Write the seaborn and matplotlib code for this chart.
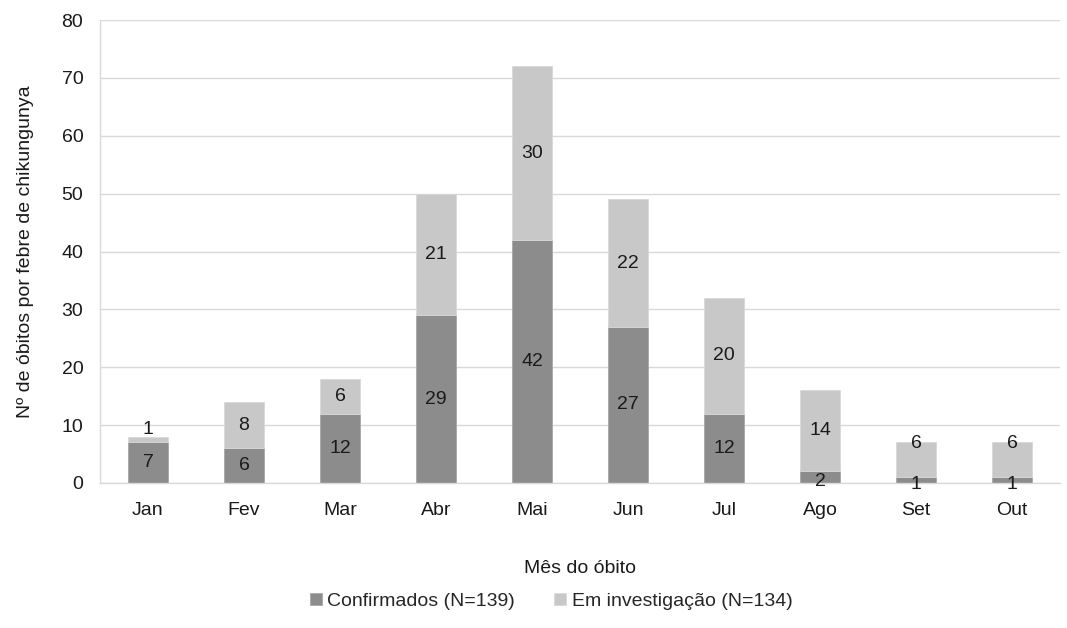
import matplotlib
matplotlib.use("Agg")
import matplotlib.pyplot as plt
import pandas as pd
import seaborn as sns

months = ["Jan", "Fev", "Mar", "Abr", "Mai", "Jun", "Jul", "Ago", "Set", "Out"]
confirmados = [7, 6, 12, 29, 42, 27, 12, 2, 1, 1]
investigacao = [1, 8, 6, 21, 30, 22, 20, 14, 6, 6]
yticks = [0, 10, 20, 30, 40, 50, 60, 70, 80]

dark = "#8c8c8c"
light = "#c8c8c8"

sns.set_theme(style="white")
plt.rcParams["font.family"] = ["Liberation Sans", "DejaVu Sans"]

df = pd.DataFrame({"mes": months, "conf": confirmados, "inv": investigacao})

fig = plt.figure(figsize=(10.67, 6.28), dpi=100)
ax = fig.add_axes([0.0937, 0.231, 0.8997, 0.737])

sns.barplot(data=df, x="mes", y="conf", color=dark, width=0.41, saturation=1,
            edgecolor="#a8a8a8", linewidth=0.6, ax=ax, label="Confirmados (N=139)")
sns.barplot(data=df, x="mes", y="inv", bottom=df["conf"], color=light, width=0.41,
            saturation=1, edgecolor="#d8d8d8", linewidth=0.6, ax=ax,
            label="Em investigação (N=134)")

# segment labels
fs = 14
for i, (c, v) in enumerate(zip(confirmados, investigacao)):
    ax.text(i, c / 2 - (0.8 if c <= 2 else 0), str(c), ha="center", va="center",
            fontsize=fs, color="#1a1a1a")
    yv = c + v / 2
    if v <= 1:
        yv = c + v + 1.2
    elif c <= 2 and v <= 6:
        yv = c + v - 0.2
    ax.text(i, yv, str(v), ha="center", va="center", fontsize=fs, color="#1a1a1a")

ax.set_ylim(0, 80)
ax.set_xlim(-0.5, len(months) - 0.5)
ax.set_yticks(yticks)
ax.yaxis.grid(True, color="#d9d9d9", linewidth=1)
ax.set_axisbelow(True)
for side in ["top", "right"]:
    ax.spines[side].set_visible(False)
for side in ["left", "bottom"]:
    ax.spines[side].set_color("#d9d9d9")
    ax.spines[side].set_linewidth(1)
ax.tick_params(axis="both", labelsize=fs, colors="#1a1a1a", length=0)
ax.tick_params(axis="x", pad=14)
ax.tick_params(axis="y", pad=12)

ax.set_xlabel("Mês do óbito", fontsize=fs, color="#1a1a1a", labelpad=29)
ax.set_ylabel("Nº de óbitos por febre de chikungunya", fontsize=fs, color="#1a1a1a",
              labelpad=20)

ax.legend(loc="upper center", bbox_to_anchor=(0.47, -0.2), ncol=2, frameon=False,
          fontsize=fs, handlelength=0.6, handleheight=0.6, handletextpad=0.3,
          columnspacing=2.0)

fig.savefig("out.png", dpi=100)
